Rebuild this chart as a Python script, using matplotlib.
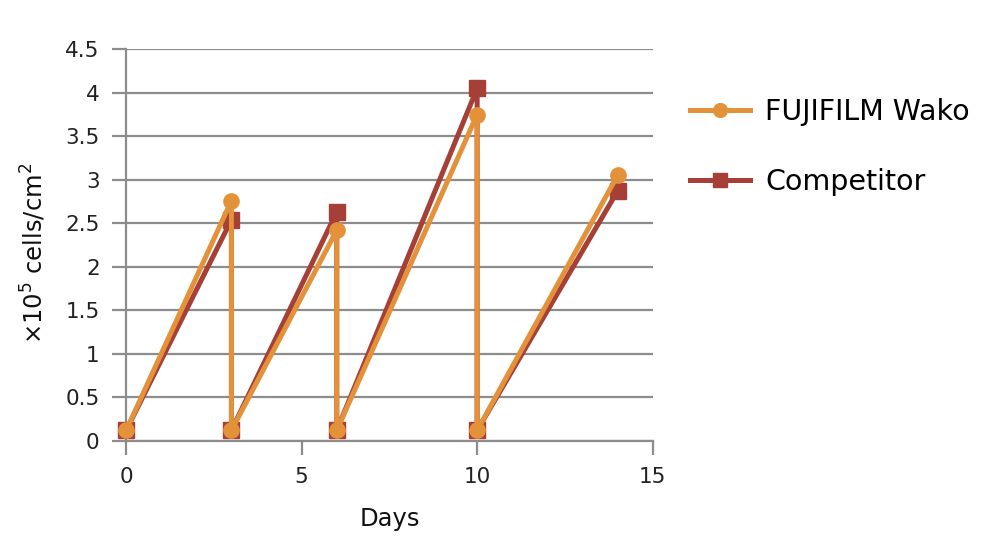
import matplotlib
matplotlib.use("Agg")
import matplotlib.pyplot as plt

# 细胞计数数据
days = [0, 3, 3, 6, 6, 10, 10, 14]
wako = [0.12, 2.76, 0.12, 2.42, 0.12, 3.75, 0.12, 3.05]
competitor = [0.12, 2.54, 0.12, 2.63, 0.12, 4.05, 0.12, 2.87]
series_names = ["FUJIFILM Wako", "Competitor"]
x_ticks = [0, 5, 10, 15]
y_ticks = [0, 0.5, 1, 1.5, 2, 2.5, 3, 3.5, 4, 4.5]

plt.rcParams['font.family'] = ['DejaVu Sans']

fig = plt.figure(figsize=(10.01, 5.47), dpi=100)
ax = fig.add_axes([0.126, 0.194, 0.526, 0.716])

grid_c = "#8c8c8c"
c_wako = "#E3923A"
c_comp = "#A53F38"

ax.plot(days, competitor, color=c_comp, lw=3.6, marker="s", ms=11, label=series_names[1], zorder=3)
ax.plot(days, wako, color=c_wako, lw=3.6, marker="o", ms=11, label=series_names[0], zorder=4)

ax.set_xlim(0, 15)
ax.set_ylim(0, 4.5)
ax.set_xticks(x_ticks)
ax.set_yticks(y_ticks)
ax.set_yticklabels([f"{v:g}" for v in y_ticks])
ax.yaxis.grid(True, color=grid_c, lw=1.6)
ax.set_axisbelow(True)
for s in ["top", "right"]:
    ax.spines[s].set_visible(False)
for s in ["left", "bottom"]:
    ax.spines[s].set_color(grid_c)
    ax.spines[s].set_linewidth(1.6)
ax.tick_params(axis="both", colors=grid_c, width=1.6, length=10, labelsize=15.5,
               labelcolor="#222222")
ax.tick_params(axis="x", pad=9)
ax.tick_params(axis="y", pad=9)
ax.margins(0)
for ln in ax.lines:
    ln.set_clip_on(False)

ax.set_xlabel("Days", fontsize=17.5, labelpad=14, color="#111111")
ax.set_ylabel("×10$^5$ cells/cm$^2$", fontsize=17.5, color="#111111")
ax.yaxis.set_label_coords(-0.148, 0.48)

handles, labels = ax.get_legend_handles_labels()
ax.legend(handles[::-1], labels[::-1], loc="upper left", bbox_to_anchor=(1.022, 0.94),
          frameon=False, fontsize=20.5, handlelength=2.1, labelspacing=1.45,
          handletextpad=0.55, markerscale=0.9)

plt.savefig("out.png", dpi=100)
